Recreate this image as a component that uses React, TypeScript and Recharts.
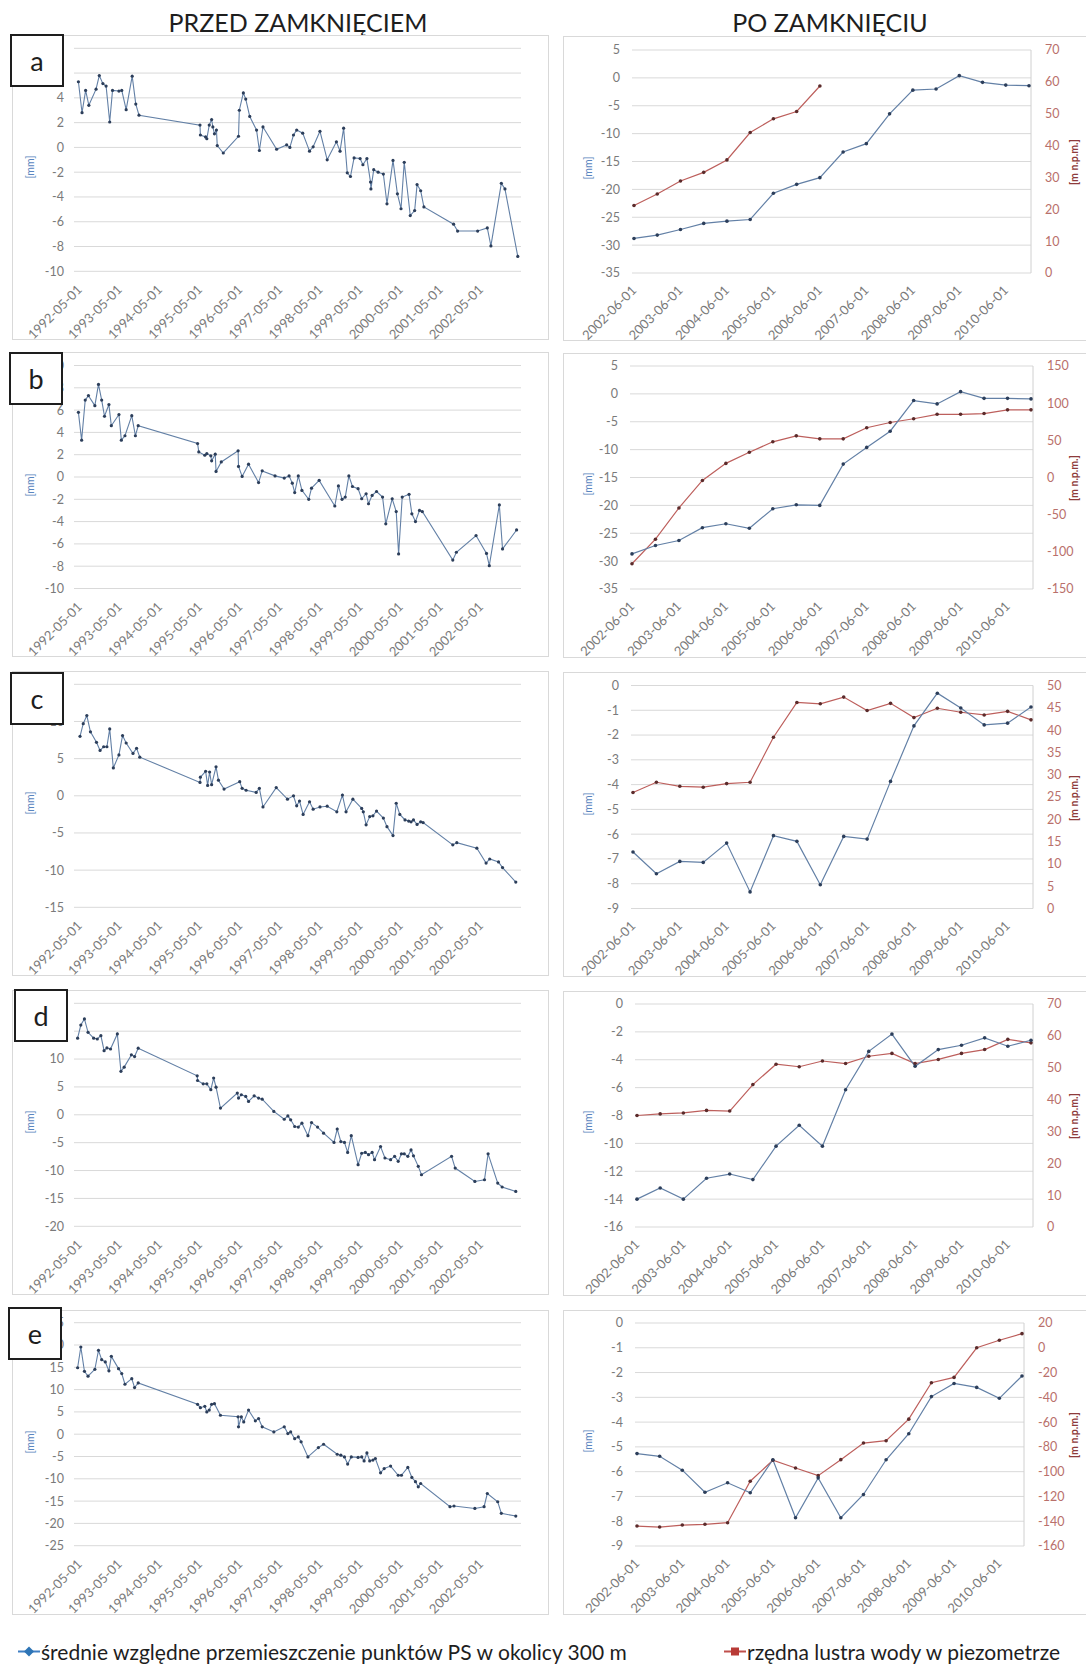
import { CartesianGrid, Line, LineChart, XAxis, YAxis } from "recharts";

type Pt = [number, number];

// before closure: [decimal year, mm]
const beforeA: Pt[] = [
  [1992.30, 5.3], [1992.39, 2.8], [1992.48, 4.6], [1992.56, 3.4], [1992.74, 4.7], [1992.82, 5.8],
  [1992.91, 5.15], [1992.99, 4.95], [1993.08, 2.05], [1993.15, 4.6], [1993.31, 4.55], [1993.38, 4.6],
  [1993.49, 3.05], [1993.64, 5.75], [1993.73, 3.5], [1993.81, 2.6], [1995.33, 1.8], [1995.34, 1.0],
  [1995.47, 0.85], [1995.50, 0.7], [1995.56, 1.8], [1995.62, 2.25], [1995.65, 1.65], [1995.69, 1.1],
  [1995.74, 1.4], [1995.76, 0.15], [1995.91, -0.45], [1996.29, 0.9], [1996.31, 3.0], [1996.41, 4.4],
  [1996.47, 3.9], [1996.57, 2.5], [1996.74, 1.4], [1996.81, -0.25], [1996.90, 1.65], [1997.24, -0.15],
  [1997.49, 0.2], [1997.57, 0.0], [1997.66, 1.0], [1997.74, 1.4], [1997.89, 1.15], [1998.06, -0.3],
  [1998.15, 0.05], [1998.32, 1.3], [1998.50, -1.0], [1998.73, 0.45], [1998.82, -0.3], [1998.91, 1.55],
  [1999.00, -2.05], [1999.08, -2.35], [1999.17, -0.85], [1999.32, -0.9], [1999.39, -1.4], [1999.49, -0.9],
  [1999.58, -2.8], [1999.59, -3.35], [1999.66, -1.8], [1999.77, -2.0], [1999.90, -2.15], [1999.99, -4.55],
  [2000.14, -1.05], [2000.25, -3.75], [2000.34, -4.95], [2000.42, -1.2], [2000.57, -5.5], [2000.68, -5.1],
  [2000.74, -3.0], [2000.83, -3.5], [2000.91, -4.8], [2001.65, -6.2], [2001.75, -6.75], [2002.25, -6.75],
  [2002.49, -6.5], [2002.58, -7.95], [2002.84, -2.9], [2002.93, -3.35], [2003.25, -8.8],
];

const beforeB: Pt[] = [
  [1992.30, 5.8], [1992.38, 3.3], [1992.47, 6.9], [1992.55, 7.3], [1992.71, 6.4], [1992.80, 8.3],
  [1992.88, 6.9], [1992.95, 5.45], [1993.06, 6.5], [1993.12, 4.6], [1993.31, 5.6], [1993.37, 3.3],
  [1993.46, 3.7], [1993.63, 5.5], [1993.72, 3.7], [1993.79, 4.6], [1995.27, 3.0], [1995.30, 2.25],
  [1995.45, 1.95], [1995.50, 2.1], [1995.60, 1.9], [1995.62, 1.45], [1995.71, 2.05], [1995.73, 0.5],
  [1995.86, 1.35], [1996.28, 2.35], [1996.29, 0.95], [1996.38, 0.05], [1996.54, 1.15], [1996.79, -0.5],
  [1996.88, 0.55], [1997.20, 0.1], [1997.43, -0.1], [1997.55, 0.1], [1997.63, -0.55], [1997.69, -1.4],
  [1997.78, 0.1], [1997.87, -1.2], [1998.04, -2.0], [1998.11, -1.0], [1998.30, -0.3], [1998.69, -2.6],
  [1998.78, -0.8], [1998.87, -2.0], [1998.95, -1.8], [1999.04, 0.1], [1999.13, -0.85], [1999.27, -1.05],
  [1999.36, -1.95], [1999.47, -1.5], [1999.53, -2.4], [1999.62, -1.65], [1999.73, -1.3], [1999.88, -1.8],
  [1999.96, -4.2], [2000.12, -1.95], [2000.22, -3.1], [2000.28, -6.9], [2000.37, -1.8], [2000.54, -1.55],
  [2000.61, -3.3], [2000.70, -4.0], [2000.80, -3.0], [2000.87, -3.1], [2001.63, -7.45], [2001.72, -6.75],
  [2002.21, -5.25], [2002.47, -6.85], [2002.54, -7.95], [2002.79, -2.5], [2002.87, -6.45], [2003.22, -4.75],
];

const beforeC: Pt[] = [
  [1992.34, 8.0], [1992.42, 9.7], [1992.51, 10.8], [1992.60, 8.6], [1992.75, 7.2], [1992.84, 6.1],
  [1992.93, 6.6], [1993.01, 6.6], [1993.08, 9.0], [1993.17, 3.75], [1993.31, 5.5], [1993.40, 8.1],
  [1993.49, 7.1], [1993.66, 5.7], [1993.75, 6.4], [1993.83, 5.2], [1995.33, 1.8], [1995.34, 2.5],
  [1995.47, 3.3], [1995.52, 1.4], [1995.57, 3.2], [1995.62, 1.5], [1995.73, 3.9], [1995.79, 2.1],
  [1995.93, 0.9], [1996.32, 1.9], [1996.38, 1.0], [1996.48, 0.75], [1996.73, 0.45], [1996.81, 1.0],
  [1996.90, -1.5], [1997.23, 1.1], [1997.51, -0.45], [1997.66, 0.0], [1997.74, -1.35], [1997.81, -0.7],
  [1997.90, -2.5], [1998.06, -0.8], [1998.15, -1.8], [1998.32, -1.5], [1998.50, -1.4], [1998.74, -2.15],
  [1998.88, 0.1], [1998.97, -2.15], [1999.14, -0.45], [1999.36, -1.7], [1999.40, -2.15], [1999.47, -3.9],
  [1999.56, -2.8], [1999.64, -2.7], [1999.73, -2.05], [1999.90, -3.0], [1999.99, -4.15], [2000.14, -5.35],
  [2000.22, -1.0], [2000.31, -2.5], [2000.44, -3.25], [2000.53, -3.4], [2000.59, -3.5], [2000.65, -3.25],
  [2000.74, -3.85], [2000.83, -3.5], [2000.89, -3.6], [2001.63, -6.6], [2001.73, -6.3], [2002.23, -7.05],
  [2002.46, -9.05], [2002.55, -8.5], [2002.77, -8.9], [2002.87, -9.65], [2003.20, -11.6],
];

const beforeD: Pt[] = [
  [1992.28, 13.75], [1992.36, 16.1], [1992.45, 17.2], [1992.54, 14.8], [1992.68, 13.75], [1992.77, 13.6],
  [1992.86, 14.2], [1992.94, 11.5], [1993.01, 12.0], [1993.10, 11.8], [1993.27, 14.5], [1993.36, 7.8],
  [1993.44, 8.55], [1993.62, 10.75], [1993.70, 10.45], [1993.79, 11.95], [1995.26, 7.0], [1995.27, 6.15],
  [1995.41, 5.55], [1995.50, 5.55], [1995.60, 4.5], [1995.67, 6.6], [1995.73, 4.95], [1995.84, 1.2],
  [1996.26, 3.9], [1996.29, 3.0], [1996.36, 3.6], [1996.47, 3.3], [1996.54, 2.4], [1996.68, 3.4],
  [1996.79, 3.0], [1996.88, 2.8], [1997.17, 0.6], [1997.43, -0.8], [1997.52, -0.2], [1997.59, -0.9],
  [1997.69, -2.1], [1997.78, -2.2], [1997.87, -1.5], [1998.02, -3.75], [1998.11, -1.4], [1998.26, -2.2],
  [1998.41, -3.3], [1998.67, -4.95], [1998.75, -2.55], [1998.84, -4.8], [1998.93, -4.95], [1999.01, -6.75],
  [1999.10, -3.75], [1999.27, -8.95], [1999.36, -6.9], [1999.45, -6.75], [1999.53, -7.15], [1999.62, -6.75],
  [1999.68, -8.05], [1999.83, -5.7], [1999.94, -7.75], [2000.08, -8.05], [2000.18, -7.45], [2000.27, -8.35],
  [2000.35, -7.0], [2000.42, -7.0], [2000.51, -7.45], [2000.59, -6.3], [2000.65, -7.35], [2000.77, -9.25],
  [2000.85, -10.75], [2001.60, -7.45], [2001.69, -9.55], [2002.18, -11.95], [2002.42, -11.65], [2002.51, -7.0],
  [2002.75, -12.25], [2002.86, -12.95], [2003.20, -13.75],
];

const beforeE: Pt[] = [
  [1992.28, 14.9], [1992.36, 19.55], [1992.45, 14.1], [1992.54, 13.0], [1992.71, 14.55], [1992.80, 18.8],
  [1992.88, 16.7], [1992.97, 16.2], [1993.06, 14.2], [1993.12, 17.45], [1993.30, 14.7], [1993.38, 13.6],
  [1993.46, 11.2], [1993.63, 12.45], [1993.70, 10.45], [1993.79, 11.5], [1995.27, 6.7], [1995.34, 5.95],
  [1995.45, 6.25], [1995.50, 5.0], [1995.56, 5.4], [1995.62, 6.7], [1995.69, 6.85], [1995.84, 4.25],
  [1996.28, 3.9], [1996.29, 1.65], [1996.36, 3.9], [1996.42, 2.75], [1996.54, 5.4], [1996.71, 3.0],
  [1996.79, 3.5], [1996.88, 1.65], [1997.17, 0.5], [1997.43, 1.65], [1997.52, 0.15], [1997.59, 0.5],
  [1997.69, -1.0], [1997.78, -0.6], [1997.85, -1.7], [1998.02, -5.1], [1998.28, -3.0], [1998.41, -2.25],
  [1998.75, -4.5], [1998.84, -4.7], [1998.93, -5.1], [1999.01, -6.7], [1999.10, -5.1], [1999.27, -5.2],
  [1999.36, -5.1], [1999.42, -6.0], [1999.49, -4.2], [1999.56, -6.0], [1999.64, -5.8], [1999.70, -5.45],
  [1999.83, -8.65], [1999.92, -7.7], [2000.08, -7.15], [2000.27, -9.2], [2000.35, -9.2], [2000.51, -7.45],
  [2000.61, -9.7], [2000.70, -10.65], [2000.77, -11.8], [2000.83, -11.05], [2001.56, -16.25], [2001.66, -16.1],
  [2002.18, -16.65], [2002.41, -16.25], [2002.49, -13.3], [2002.75, -15.15], [2002.84, -17.75], [2003.20, -18.35],
];

const beforeTickLabels = [
  "1992-05-01", "1993-05-01", "1994-05-01", "1995-05-01", "1996-05-01", "1997-05-01",
  "1998-05-01", "1999-05-01", "2000-05-01", "2001-05-01", "2002-05-01",
];

// after closure: half-year categories
const afterDates = [
  "2002-06-01", "2002-12-01", "2003-06-01", "2003-12-01", "2004-06-01", "2004-12-01",
  "2005-06-01", "2005-12-01", "2006-06-01", "2006-12-01", "2007-06-01", "2007-12-01",
  "2008-06-01", "2008-12-01", "2009-06-01", "2009-12-01", "2010-06-01", "2010-12-01",
];

const psA = [-28.8, -28.2, -27.2, -26.1, -25.7, -25.4, -20.7, -19.1, -17.9, -13.3, -11.8, -6.45, -2.2, -2.0, 0.4, -0.8, -1.3, -1.4];
const waterA = [21.2, 24.8, 28.9, 31.6, 35.5, 44.1, 48.4, 50.7, 58.7, null, null, null, null, null, null, null, null, null];
const psB = [-28.7, -27.2, -26.3, -24.0, -23.3, -24.1, -20.6, -19.9, -20.0, -12.6, -9.6, -6.7, -1.2, -1.8, 0.4, -0.8, -0.8, -0.9];
const waterB = [-116, -83, -41, -4, 19, 34, 48, 56, 52, 52, 67, 74, 79, 85, 85, 86, 91, 91];
const psC = [-6.72, -7.6, -7.1, -7.14, -6.36, -8.33, -6.06, -6.29, -8.04, -6.09, -6.2, -3.87, -1.63, -0.31, -0.91, -1.59, -1.52, -0.87];
const waterC = [26.0, 28.3, 27.4, 27.2, 28.0, 28.3, 38.4, 46.2, 45.9, 47.4, 44.4, 46.0, 42.8, 44.9, 44.0, 43.4, 44.2, 42.3];
const psD = [-14.0, -13.2, -14.0, -12.5, -12.2, -12.6, -10.2, -8.7, -10.2, -6.15, -3.4, -2.16, -4.47, -3.27, -2.96, -2.43, -3.03, -2.6];
const waterD = [35.0, 35.5, 35.8, 36.6, 36.4, 44.7, 51.1, 50.3, 52.1, 51.3, 53.6, 54.5, 51.3, 52.6, 54.5, 55.7, 58.9, 57.8];
const psE = [-5.27, -5.38, -5.94, -6.83, -6.45, -6.85, -5.52, -7.86, -6.25, -7.86, -6.92, -5.52, -4.47, -2.97, -2.44, -2.6, -3.04, -2.14];
const waterE = [-143.9, -144.7, -143.1, -142.5, -141.2, -107.7, -90.8, -97.0, -103.2, -90.3, -76.9, -75.0, -57.6, -28.2, -23.9, 0, 6.1, 11.4];

const FONT = "Lato, 'Open Sans', sans-serif";
const PANEL_H = 305;
const CHART_H = 335; // taller than the frame so slanted labels are not clipped
const GRID_H = 223;
const BLUE = "#6380a6";
const BLUE_DOT = "#2c3e5a";
const RED = "#bd5f5c";
const RED_DOT = "#5b2b2b";
const GRID = "#d9d9d9";
const TICK = "#7a7a7a";

const toYear = (s: string) => {
  const [y, m, d] = s.split("-").map(Number);
  return y + (Date.UTC(y, m - 1, d) - Date.UTC(y, 0, 1)) / (365 * 86400000);
};
const beforeTicks = beforeTickLabels.map(toYear);

const SlantTick = (props: any) => {
  const { x, y, payload, labels } = props;
  let text = payload.value;
  if (labels) {
    const i = beforeTicks.findIndex((t) => Math.abs(t - payload.value) < 0.01);
    text = labels[i];
  }
  return (
    <text x={x} y={y} dy="0.35em" textAnchor="end" fontSize={13} fill={TICK}
      transform={`rotate(-45 ${x} ${y})`}>
      {text}
    </text>
  );
};

const beforePanels = [
  { letter: "a", top: 35, gridTop: 48.3, box: [10, 34], points: beforeA, domain: [-10, 8], ticks: [-10, -8, -6, -4, -2, 0, 2, 4, 6, 8] },
  { letter: "b", top: 352, gridTop: 365.5, box: [9, 352], points: beforeB, domain: [-10, 10], ticks: [-10, -8, -6, -4, -2, 0, 2, 4, 6, 8, 10] },
  { letter: "c", top: 671, gridTop: 684.3, box: [10, 672], points: beforeC, domain: [-15, 15], ticks: [-15, -10, -5, 0, 5, 10, 15] },
  { letter: "d", top: 990, gridTop: 1003.3, box: [14, 989], points: beforeD, domain: [-20, 20], ticks: [-20, -15, -10, -5, 0, 5, 10, 15, 20] },
  { letter: "e", top: 1310, gridTop: 1322.7, box: [8, 1307], points: beforeE, domain: [-25, 25], ticks: [-25, -20, -15, -10, -5, 0, 5, 10, 15, 20, 25] },
];

const afterPanels = [
  { top: 36, gridTop: 50, plotLeft: 632, plotRight: 1031, ps: psA, water: waterA, lDomain: [-35, 5], lTicks: [-35, -30, -25, -20, -15, -10, -5, 0, 5], rDomain: [0, 70], rTicks: [0, 10, 20, 30, 40, 50, 60, 70] },
  { top: 353, gridTop: 366, plotLeft: 630, plotRight: 1033, ps: psB, water: waterB, lDomain: [-35, 5], lTicks: [-35, -30, -25, -20, -15, -10, -5, 0, 5], rDomain: [-150, 150], rTicks: [-150, -100, -50, 0, 50, 100, 150] },
  { top: 672, gridTop: 685.5, plotLeft: 631, plotRight: 1033, ps: psC, water: waterC, lDomain: [-9, 0], lTicks: [-9, -8, -7, -6, -5, -4, -3, -2, -1, 0], rDomain: [0, 50], rTicks: [0, 5, 10, 15, 20, 25, 30, 35, 40, 45, 50] },
  { top: 991, gridTop: 1004, plotLeft: 635, plotRight: 1033, ps: psD, water: waterD, lDomain: [-16, 0], lTicks: [-16, -14, -12, -10, -8, -6, -4, -2, 0], rDomain: [0, 70], rTicks: [0, 10, 20, 30, 40, 50, 60, 70] },
  { top: 1310, gridTop: 1323, plotLeft: 635, plotRight: 1024, ps: psE, water: waterE, lDomain: [-9, 0], lTicks: [-9, -8, -7, -6, -5, -4, -3, -2, -1, 0], rDomain: [-160, 20], rTicks: [-160, -140, -120, -100, -80, -60, -40, -20, 0, 20] },
];

const VText = ({ x, y, text, color, size = 10.5, weight = 400 }: any) => (
  <div style={{ position: "absolute", left: x, top: y, transform: "translate(-50%, -50%) rotate(-90deg)",
    fontSize: size, color, fontWeight: weight, whiteSpace: "nowrap" }}>{text}</div>
);

const BeforePanel = ({ p }: any) => {
  const data = p.points.map(([t, v]: Pt) => ({ t, v }));
  const mTop = p.gridTop - p.top;
  return (
    <>
      <div style={{ position: "absolute", left: 12, top: p.top, width: 537, height: PANEL_H, border: `1px solid ${GRID}`, boxSizing: "border-box" }} />
      <div style={{ position: "absolute", left: 12, top: p.top }}>
        <LineChart width={537} height={CHART_H} data={data} margin={{ top: mTop, right: 28, bottom: 0, left: 0 }}>
          <CartesianGrid vertical={false} stroke={GRID} />
          <XAxis type="number" dataKey="t" domain={[1992.19, 2003.33]} ticks={beforeTicks} interval={0}
            allowDataOverflow axisLine={false} tickLine={false} tickSize={0} tickMargin={16}
            height={CHART_H - mTop - GRID_H} tick={<SlantTick labels={beforeTickLabels} />} />
          <YAxis domain={p.domain} ticks={p.ticks} interval={0} width={62} axisLine={false} tickLine={false}
            tickSize={0} tickMargin={10} tick={{ fontSize: 12.5, fill: TICK }} />
          <Line type="linear" dataKey="v" stroke={BLUE} strokeWidth={1.1}
            dot={{ r: 1.6, fill: BLUE_DOT, stroke: BLUE_DOT, strokeWidth: 0 }} isAnimationActive={false} />
        </LineChart>
      </div>
      <VText x={29.5} y={p.gridTop + 119} text="[mm]" color="#5a86c0" />
      <div style={{ position: "absolute", left: p.box[0], top: p.box[1], width: 54, height: 53, boxSizing: "border-box",
        border: "2px solid #1e1e1e", background: "#fff", display: "flex", alignItems: "center", justifyContent: "center",
        fontSize: 27, color: "#1e1e1e", lineHeight: 1 }}>{p.letter}</div>
    </>
  );
};

const AfterPanel = ({ p }: any) => {
  const left = 563;
  const width = 540;
  const mTop = p.gridTop - p.top;
  const data = afterDates.map((d, i) => ({ d, ps: p.ps[i], water: p.water[i] }));
  return (
    <>
      <div style={{ position: "absolute", left, top: p.top, width, height: PANEL_H, border: `1px solid ${GRID}`, boxSizing: "border-box" }} />
      <div style={{ position: "absolute", left, top: p.top }}>
        <LineChart width={width} height={CHART_H} data={data} margin={{ top: mTop, right: 0, bottom: 0, left: 0 }}>
          <CartesianGrid vertical={false} stroke={GRID} yAxisId="mm" />
          <XAxis dataKey="d" interval={1} padding={{ left: 2, right: 2 }} axisLine={false} tickLine={false}
            tickSize={0} tickMargin={15} height={CHART_H - mTop - GRID_H} tick={<SlantTick />} />
          <YAxis yAxisId="mm" orientation="left" domain={p.lDomain} ticks={p.lTicks} interval={0}
            width={p.plotLeft - left} axisLine={false} tickLine={false} tickSize={0} tickMargin={12}
            tick={{ fontSize: 12.5, fill: TICK }} />
          <YAxis yAxisId="w" orientation="right" domain={p.rDomain} ticks={p.rTicks} interval={0}
            width={left + width - p.plotRight} axisLine={{ stroke: "#d0d0d0" }} tickLine={false} tickSize={0}
            tickMargin={14} tick={{ fontSize: 12.5, fill: "#b9706b" }} />
          <Line yAxisId="w" type="linear" dataKey="water" stroke={RED} strokeWidth={1.2}
            dot={{ r: 1.8, fill: RED_DOT, stroke: RED_DOT, strokeWidth: 0 }} isAnimationActive={false} />
          <Line yAxisId="mm" type="linear" dataKey="ps" stroke={BLUE} strokeWidth={1.2}
            dot={{ r: 1.8, fill: BLUE_DOT, stroke: BLUE_DOT, strokeWidth: 0 }} isAnimationActive={false} />
        </LineChart>
      </div>
      <VText x={588} y={p.gridTop + 118} text="[mm]" color="#5a86c0" />
      <VText x={1074} y={p.gridTop + 112} text="[m n.p.m.]" color="#8e3b3b" weight={700} />
    </>
  );
};

export default function App() {
  return (
    <>
      <style>{"body{margin:0}"}</style>
      <div style={{ position: "relative", width: 1086, height: 1670, overflow: "hidden", background: "#fff", fontFamily: FONT, color: "#1e1e1e" }}>
        <div style={{ position: "absolute", left: 298, top: 22, transform: "translate(-50%, -50%)", fontSize: 25, whiteSpace: "nowrap" }}>
          PRZED ZAMKNIĘCIEM
        </div>
        <div style={{ position: "absolute", left: 830, top: 22, transform: "translate(-50%, -50%)", fontSize: 25, whiteSpace: "nowrap" }}>
          PO ZAMKNIĘCIU
        </div>
        {beforePanels.map((p) => <BeforePanel key={p.letter} p={p} />)}
        {afterPanels.map((p, i) => <AfterPanel key={i} p={p} />)}
        <div style={{ position: "absolute", left: 18, top: 1651, transform: "translateY(-50%)", display: "flex", alignItems: "center", fontSize: 21, whiteSpace: "nowrap" }}>
          <svg width={22} height={12} style={{ marginRight: 1 }}>
            <line x1={0} y1={6} x2={22} y2={6} stroke="#3f7fc4" strokeWidth={2} />
            <path d="M11 1 L16 6 L11 11 L6 6 Z" fill="#2e75b6" />
          </svg>
          średnie względne przemieszczenie punktów PS w okolicy 300 m
        </div>
        <div style={{ position: "absolute", left: 724, top: 1651, transform: "translateY(-50%)", display: "flex", alignItems: "center", fontSize: 21, whiteSpace: "nowrap" }}>
          <svg width={22} height={12} style={{ marginRight: 1 }}>
            <line x1={0} y1={6} x2={22} y2={6} stroke="#c0504d" strokeWidth={2} />
            <rect x={7} y={2} width={8} height={8} fill="#b83a36" />
          </svg>
          rzędna lustra wody w piezometrze
        </div>
      </div>
    </>
  );
}
